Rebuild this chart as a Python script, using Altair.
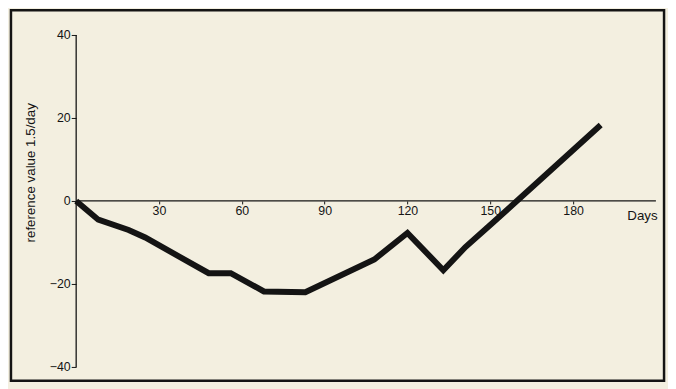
import altair as alt
import pandas as pd

# --- data ---
days = [0, 8, 19, 25, 48, 56, 68, 83, 108, 120, 133, 141, 151, 190]
values = [0, -4.5, -7.0, -8.8, -17.4, -17.4, -21.8, -22.0, -14.1, -7.7, -16.7, -11.1, -5.2, 18.3]
x_ticks = [30, 60, 90, 120, 150, 180]
y_ticks = [-40, -20, 0, 20, 40]
x_title = "Days"
y_title = "reference value 1.5/day"
x_axis_span = [0, 210]
y_axis_span = [-40, 40]

W, H = 661, 375
xdom = [-23.62, 212.95]
ydom = [-43.33, 45.95]
FONT = "Liberation Sans"
INK = "#141414"

df = pd.DataFrame({"day": days, "value": values})
df_xr = pd.DataFrame({"day": [x_axis_span[0]], "day2": [x_axis_span[1]], "value": [0]})
df_yr = pd.DataFrame({"day": [0], "value": [y_axis_span[0]], "value2": [y_axis_span[1]]})

xscale = alt.Scale(domain=xdom, nice=False, zero=False)
yscale = alt.Scale(domain=ydom, nice=False, zero=False)

x_axis = alt.Axis(
    values=x_ticks, offset=-182, domain=False, grid=False,
    tickSize=3, labelPadding=1, tickColor=INK, labelColor=INK,
    labelFont=FONT, labelFontSize=12.5,
    title=x_title, titleX=654, titleY=15, titleAlign="right",
    titleBaseline="middle", titleFont=FONT, titleFontSize=13.5,
    titleFontWeight="normal", titleColor=INK,
)
y_axis = alt.Axis(
    values=y_ticks, offset=-66, domain=False, grid=False,
    tickSize=5, labelPadding=1, tickColor=INK, labelColor=INK,
    labelFont=FONT, labelFontSize=12.5,
    title=y_title, titleX=-46, titleY=164, titleAngle=-90,
    titleAlign="center", titleBaseline="middle", titleFont=FONT,
    titleFontSize=13.5, titleFontWeight="normal", titleColor=INK,
)

xrule = alt.Chart(df_xr).mark_rule(color=INK, strokeWidth=1.3).encode(
    x=alt.X("day:Q", scale=xscale), x2="day2", y=alt.Y("value:Q", scale=yscale)
)
yrule = alt.Chart(df_yr).mark_rule(color=INK, strokeWidth=1.3).encode(
    x=alt.X("day:Q", scale=xscale), y=alt.Y("value:Q", scale=yscale), y2="value2"
)
line = alt.Chart(df).mark_line(color=INK, strokeWidth=6, strokeJoin="miter").encode(
    x=alt.X("day:Q", scale=xscale, axis=x_axis),
    y=alt.Y("value:Q", scale=yscale, axis=y_axis),
)

chart = alt.layer(line, xrule, yrule).properties(
    width=W, height=H,
    autosize=alt.AutoSizeParams(type="none"),
    padding={"left": 3, "top": 0, "right": 4, "bottom": 6},
    background="#f3efe0",
).configure_view(stroke=INK, strokeWidth=2.5)

chart.save("out.html", embed_options={"renderer": "svg", "actions": False})
